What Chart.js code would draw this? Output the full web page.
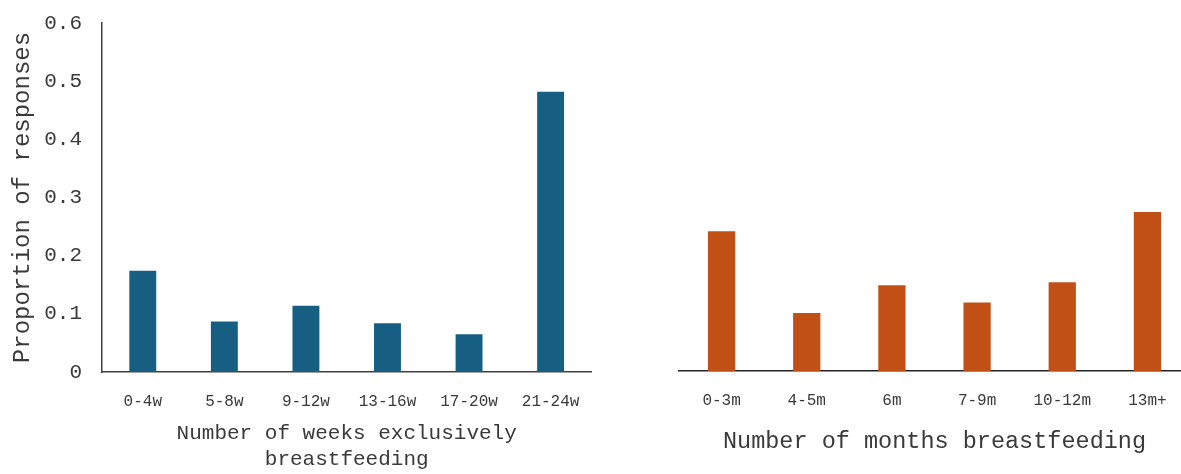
<!DOCTYPE html>
<html><head><meta charset="utf-8">
<script src="https://cdn.jsdelivr.net/npm/chart.js@4"></script>
<style>
html,body{margin:0;padding:0;background:#fff;overflow:hidden;width:1181px;height:474px;}
#w1{position:absolute;left:0;top:0;width:600px;height:474px;}
#w2{position:absolute;left:660px;top:0;width:530px;height:474px;}
</style></head><body>
<div id="w1"><canvas id="c1"></canvas></div>
<div id="w2"><canvas id="c2"></canvas></div>
<script>
const weekCategories = ['0-4w', '5-8w', '9-12w', '13-16w', '17-20w', '21-24w'];
const weekValues = [0.174, 0.087, 0.114, 0.084, 0.065, 0.482];
const monthCategories = ['0-3m', '4-5m', '6m', '7-9m', '10-12m', '13m+'];
const monthValues = [0.241, 0.100, 0.148, 0.118, 0.153, 0.274];
const yTickStep = 0.1;
const yMax = 0.6;
const weekTitle = ['Number of weeks exclusively', 'breastfeeding'];
const monthTitle = 'Number of months breastfeeding';
const yTitle = 'Proportion of responses';

const FONT = "'Liberation Mono', 'DejaVu Sans Mono', monospace";
const TXT = '#3a3a3a';
const AXIS = '#404040';

new Chart(document.getElementById('c1'), {
  type: 'bar',
  data: { labels: weekCategories, datasets: [{ data: weekValues, backgroundColor: '#175f82', barPercentage: 0.33, categoryPercentage: 1.0 }] },
  options: {
    responsive: true, maintainAspectRatio: false, animation: false,
    layout: { padding: { top: 23, right: 7, left: 0, bottom: 0 } },
    plugins: { legend: { display: false }, tooltip: { enabled: false } },
    scales: {
      x: {
        grid: { display: false, drawTicks: false },
        border: { display: true, color: AXIS, width: 1.5 },
        ticks: { font: { family: FONT, size: 16 }, color: TXT, padding: 20, maxRotation: 0, autoSkip: false },
        title: { display: true, text: weekTitle, font: { family: FONT, size: 21, lineHeight: 1.24 }, color: TXT, padding: { top: 0, bottom: 2 } },
        afterFit(s) { s.height = 102; }
      },
      y: {
        min: 0, max: yMax,
        grid: { display: false, drawTicks: true, tickLength: 20 },
        border: { display: true, color: AXIS, width: 1.5 },
        ticks: { stepSize: yTickStep, font: { family: FONT, size: 21 }, color: TXT, padding: 0 },
        title: { display: true, text: yTitle, font: { family: FONT, size: 24 }, color: TXT, padding: { top: 8, bottom: 0 } },
        afterFit(s) { s.width = 102; }
      }
    }
  }
});

new Chart(document.getElementById('c2'), {
  type: 'bar',
  data: { labels: monthCategories, datasets: [{ data: monthValues, backgroundColor: '#c05016', barPercentage: 0.32, categoryPercentage: 1.0 }] },
  options: {
    responsive: true, maintainAspectRatio: false, animation: false,
    layout: { padding: { top: 23, right: 0, left: 19, bottom: 0 } },
    plugins: { legend: { display: false }, tooltip: { enabled: false } },
    scales: {
      x: {
        grid: { display: false, drawTicks: false },
        border: { display: true, color: '#222', width: 1.5 },
        ticks: { font: { family: FONT, size: 16 }, color: TXT, padding: 20, maxRotation: 0, autoSkip: false },
        title: { display: true, text: monthTitle, font: { family: FONT, size: 23.5 }, color: TXT, padding: { top: 0, bottom: 18 } },
        afterFit(s) { s.height = 103; }
      },
      y: { display: false, min: 0, max: yMax }
    }
  }
});
</script>
</body></html>
